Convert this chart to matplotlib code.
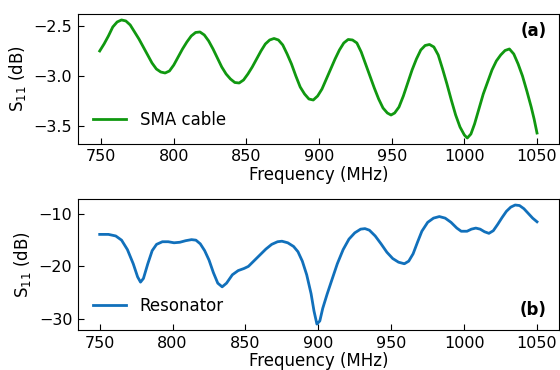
import matplotlib
matplotlib.use("Agg")
import matplotlib.pyplot as plt

# SMA cable S11 (top panel)
freq_cable = [749, 752, 755, 758, 761, 764, 767, 770, 773, 776, 779, 782, 785, 788, 791, 794, 797,
              800, 803, 806, 809, 812, 815, 818, 821, 824, 827, 830, 833, 836, 839, 842, 845, 848,
              851, 854, 857, 860, 863, 866, 869, 872, 875, 878, 881, 884, 887, 890, 893, 896, 899,
              902, 905, 908, 911, 914, 917, 920, 923, 926, 929, 932, 935, 938, 941, 944, 947,
              949.5, 952, 955, 958, 961, 964, 967, 970, 973, 976, 979, 982, 985, 988, 991, 994,
              997, 1000, 1002, 1004.5, 1007, 1010, 1013, 1016, 1019, 1022, 1025, 1028, 1031,
              1034, 1037, 1040, 1043, 1046, 1048, 1050]
s11_cable = [-2.75, -2.68, -2.60, -2.51, -2.46, -2.44, -2.45, -2.49, -2.56, -2.63, -2.71, -2.79,
             -2.87, -2.93, -2.96, -2.97, -2.95, -2.89, -2.81, -2.73, -2.66, -2.60, -2.565, -2.56,
             -2.59, -2.65, -2.73, -2.82, -2.91, -2.98, -3.03, -3.065, -3.07, -3.04, -2.98, -2.91,
             -2.83, -2.75, -2.68, -2.64, -2.625, -2.64, -2.69, -2.78, -2.88, -3.00, -3.11, -3.18,
             -3.23, -3.24, -3.20, -3.13, -3.03, -2.93, -2.83, -2.74, -2.67, -2.635, -2.64, -2.67,
             -2.76, -2.88, -3.00, -3.12, -3.23, -3.32, -3.37, -3.39, -3.37, -3.31, -3.20, -3.07,
             -2.94, -2.83, -2.74, -2.695, -2.685, -2.71, -2.79, -2.93, -3.08, -3.24, -3.39, -3.51,
             -3.59, -3.62, -3.58, -3.48, -3.33, -3.18, -3.06, -2.94, -2.85, -2.79, -2.745, -2.73,
             -2.78, -2.88, -3.00, -3.15, -3.31, -3.43, -3.57]

# Resonator S11 (bottom panel)
freq_res = [750, 756, 761, 765, 769, 773, 776, 778, 780, 783, 786, 789, 793, 797, 801, 805, 809,
            813, 816, 819, 822, 825, 828, 831, 834, 837, 841, 845, 849, 852, 856, 860, 864, 868,
            872, 875, 879, 883, 886, 889, 892, 895, 897, 899, 901, 903, 906, 909, 913, 917, 921,
            925, 929, 932, 935, 939, 943, 947, 951, 955, 959, 962, 965, 968, 971, 975, 979, 983,
            987, 991, 995, 998, 1002, 1005, 1008, 1011, 1014, 1017, 1020, 1023, 1026, 1029, 1032,
            1035, 1038, 1041, 1044, 1047, 1050]
s11_res = [-13.9, -13.9, -14.2, -15.0, -16.8, -19.5, -22.0, -23.0, -22.3, -19.5, -17.0, -15.8,
           -15.3, -15.3, -15.5, -15.4, -15.1, -14.9, -15.0, -15.7, -17.0, -18.8, -21.2, -23.2,
           -23.9, -23.2, -21.6, -20.8, -20.4, -20.0, -18.9, -17.8, -16.7, -15.8, -15.3, -15.2,
           -15.5, -16.2, -17.2, -19.0, -21.6, -25.2, -28.5, -31.0, -30.4, -28.0, -25.3, -22.8,
           -19.5, -16.8, -14.8, -13.6, -12.9, -12.8, -13.1, -14.2, -15.7, -17.3, -18.5, -19.2,
           -19.5, -19.0, -17.6, -15.4, -13.3, -11.6, -10.8, -10.5, -10.8, -11.6, -12.7, -13.3,
           -13.3, -12.9, -12.7, -12.9, -13.4, -13.7, -13.2, -12.0, -10.7, -9.5, -8.7, -8.3,
           -8.4, -9.0, -9.9, -10.8, -11.5]

plt.rcParams['font.size'] = 11.5

fig = plt.figure(figsize=(5.6, 3.7), dpi=100)
ax1 = fig.add_axes([0.139, 0.611, 0.859, 0.351])
ax2 = fig.add_axes([0.139, 0.108, 0.859, 0.354])

ax1.plot(freq_cable, s11_cable, color='#109810', lw=2, label='SMA cable')
ax1.set_yticks([-3.5, -3.0, -2.5])
ax1.set_xlabel('Frequency (MHz)', fontsize=12, labelpad=1)
ax1.set_ylabel('S$_{11}$ (dB)', fontsize=12)
ax1.legend(loc='lower left', frameon=False, fontsize=12)
ax1.text(0.975, 0.87, '(a)', transform=ax1.transAxes, ha='right', va='center',
         fontsize=12, fontweight='bold')

ax2.plot(freq_res, s11_res, color='#1170bb', lw=2, label='Resonator')
ax2.set_yticks([-30, -20, -10])
ax2.set_xlabel('Frequency (MHz)', fontsize=12, labelpad=1)
ax2.set_ylabel('S$_{11}$ (dB)', fontsize=12)
ax2.legend(loc='lower left', frameon=False, fontsize=12)
ax2.text(0.975, 0.15, '(b)', transform=ax2.transAxes, ha='right', va='center',
         fontsize=12, fontweight='bold')

for ax in (ax1, ax2):
    ax.set_xticks([750, 800, 850, 900, 950, 1000, 1050])
    ax.tick_params(direction='in', length=4, pad=4)

fig.savefig('out.png', dpi=100)
